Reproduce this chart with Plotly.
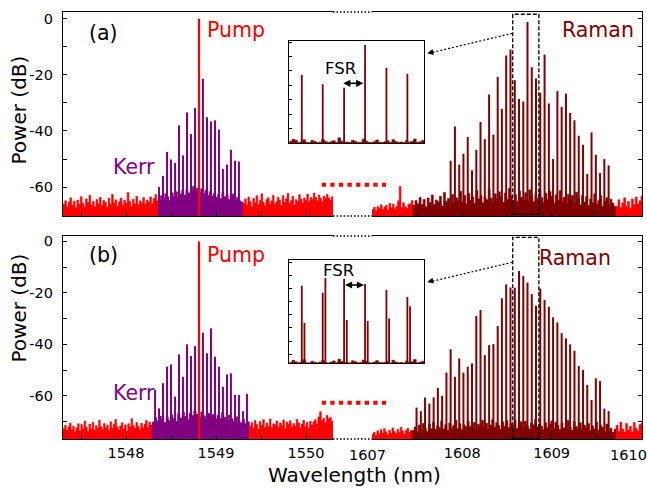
import numpy as np
import plotly.graph_objects as go

RED = "#ff0000"
PURPLE = "#800080"
MAROON = "#800000"
FONT = "DejaVu Sans"

# ---------------- data ----------------
left_ticks = [1547.5, 1548, 1548.5, 1549, 1549.5, 1550]
left_ticktext = ["", "1548", "", "1549", "", "1550"]
right_ticks = [1607, 1607.5, 1608, 1608.5, 1609, 1609.5, 1610]
right_ticktext = ["", "", "1608", "", "1609", "", ""]
edge_ticklabels = ["1607", "1610"]   # edge labels drawn as text next to the axis ends
power_ticks = [-70, -60, -50, -40, -30, -20, -10, 0]
power_ticktext = ["", "-60", "", "-40", "", "-20", "", "0"]

pump_nm = 1548.811
pump_db = 0.0

# Kerr comb, panel (a)
kerr_a_nm = [1548.367, 1548.411, 1548.456, 1548.500, 1548.545, 1548.589, 1548.633, 1548.678, 1548.722, 1548.767,
             1548.855, 1548.900, 1548.944, 1548.989, 1549.033, 1549.077, 1549.122, 1549.166, 1549.211, 1549.255]
kerr_a_db = [-60.0, -56.0, -47.5, -50.2, -51.4, -38.0, -48.7, -33.4, -41.1, -31.8,
             -21.4, -35.1, -36.6, -36.2, -39.5, -53.5, -52.0, -46.7, -50.6, -50.9]

# Kerr comb, panel (b)
kerr_b_nm = [1548.323, 1548.367, 1548.411, 1548.456, 1548.500, 1548.545, 1548.589, 1548.633, 1548.678, 1548.722, 1548.767,
             1548.855, 1548.900, 1548.944, 1548.989, 1549.033, 1549.077, 1549.122, 1549.166, 1549.211, 1549.255, 1549.300, 1549.344]
kerr_b_db = [-57.7, -64.9, -55.1, -48.7, -47.8, -60.3, -43.9, -52.6, -40.0, -44.5, -40.7,
             -35.5, -43.5, -33.8, -44.8, -48.7, -56.5, -51.7, -51.3, -59.7, -59.7, -66.0, -59.3]

# Raman comb wavelengths (shared grid)
raman_nm = [1607.490, 1607.538, 1607.585, 1607.633, 1607.681, 1607.728, 1607.776, 1607.824,
            1607.871, 1607.919, 1607.967, 1608.014, 1608.062, 1608.110, 1608.158, 1608.205, 1608.253,
            1608.301, 1608.349, 1608.397, 1608.444, 1608.492, 1608.540, 1608.588, 1608.635, 1608.683,
            1608.730, 1608.778, 1608.825, 1608.873, 1608.921, 1608.969, 1609.016, 1609.064, 1609.112,
            1609.160, 1609.207, 1609.255, 1609.303, 1609.351, 1609.398, 1609.446, 1609.494, 1609.541,
            1609.589, 1609.637]
raman_a_db = [None, None, None, None, None, None, None, None,
              -50.6, -38.4, -52.0, -48.1, -42.1, -54.0, -46.7, -36.8, -42.9,
              -27.0, -41.3, -20.7, -32.1, -13.1, -11.0, -21.9, -28.6, -29.5,
              -1.2, -17.3, -21.3, -26.4, -12.8, -30.2, -50.0, -25.8, -31.4,
              -26.7, -33.6, -36.2, -41.7, -44.9, -55.3, -40.5, -48.5, -55.0,
              -50.0, -52.3]
raman_b_db = [-64.6, -66.0, -60.7, -63.0, -60.6, -56.9, -60.0, -51.0,
              -41.9, -52.6, -45.5, -51.0, -48.7, -47.4, -29.0, -26.7, -44.2,
              -40.3, -39.9, -32.9, -22.1, -16.7, -17.9, -18.0, -11.5, -13.5,
              -16.0, -20.5, -25.0, -18.3, -22.8, -25.4, -29.5, -31.5, -35.7,
              -37.7, -40.0, -42.5, -48.4, -50.0, -55.8, -61.6, -53.2, -54.3,
              -65.0, -66.0]

# Inset (a): zoom on the dashed box
inset_a_nm = [1608.588, 1608.635, 1608.683, 1608.730, 1608.778, 1608.825]
inset_a_db = [-22.8, -29.3, -31.7, -1.9, -17.7, -21.9]
inset_a_noise = [-69.0, -67.6, -68.2, -69.8, -69.5, -67.9, -69.7, -69.9, -68.4, -69.2, -69.8, -69.6, -67.8,
                 -69.1, -69.9, -69.4, -68.6, -69.8, -66.6, -68.9, -69.7, -69.5, -69.9, -68.3, -69.0, -69.8,
                 -69.6, -67.5, -68.8, -69.7, -69.9, -69.3, -68.1, -69.6, -69.8, -69.4, -68.7, -69.9, -67.9,
                 -69.2, -69.8, -69.5, -69.9, -68.4, -69.6, -69.1, -67.4, -69.7, -69.3, -68.5]
# Inset (b): doublets
inset_b_nm = [1608.588, 1608.594, 1608.635, 1608.641, 1608.683, 1608.689,
              1608.730, 1608.736, 1608.778, 1608.784, 1608.825, 1608.831]
inset_b_db = [-17.8, -46.1, -23.2, -12.0, -12.7, -44.0,
              -16.6, -44.8, -21.1, -42.8, -26.5, -33.4]
inset_b_noise = [-76.2, -74.6, -75.8, -76.5, -76.0, -74.2, -76.4, -76.6, -75.3, -76.1, -76.5, -75.9, -74.8,
                 -76.3, -76.6, -76.0, -75.1, -76.4, -73.8, -75.6, -76.5, -76.2, -76.6, -75.0, -75.7, -76.5,
                 -76.3, -74.4, -75.5, -76.4, -76.6, -76.0, -74.9, -76.3, -76.5, -76.1, -75.4, -76.6, -74.6,
                 -75.9, -76.5, -76.2, -76.6, -75.2, -76.3, -75.8, -74.1, -76.4, -76.0, -75.3]

# noise floors: (start nm, end nm, levels)
a_left = (1547.30, 1548.36, [-66.2, -64.9, -67.1, -65.3, -63.8, -66.5, -65.0, -67.4, -64.6, -66.0, -63.4, -65.8, -66.9,
                             -64.2, -65.5, -62.9, -66.3, -65.1, -67.0, -64.4, -65.9, -63.6, -66.6, -64.8, -65.4, -67.2,
                             -64.0, -66.1, -62.6, -65.6, -64.5, -66.8, -65.2, -63.9, -66.4, -64.7, -65.7, -61.9, -65.0,
                             -66.7, -64.3, -65.9, -63.3, -66.2, -64.9, -65.6, -63.7, -66.0, -64.6, -65.3, -63.5, -65.8,
                             -64.1, -62.7, -64.9])
a_kerr = (1548.36, 1549.30, [-64.6, -63.1, -64.0, -62.4, -63.5, -64.8, -62.0, -63.3, -61.7, -63.9, -62.5, -61.2, -62.8,
                             -60.9, -62.1, -61.5, -59.8, -61.0, -60.3, -61.8, -60.6, -62.3, -61.1, -62.9, -61.6, -63.2,
                             -62.2, -63.7, -62.6, -64.1, -61.9, -63.4, -62.7, -64.3, -63.0, -62.4, -64.5, -63.6, -64.9,
                             -65.3])
a_right = (1549.30, 1550.30, [-65.8, -64.2, -66.4, -63.5, -65.1, -66.9, -64.0, -65.6, -63.1, -66.2, -64.7, -62.4, -65.3,
                              -66.6, -64.4, -63.8, -65.9, -64.9, -62.9, -66.0, -65.2, -63.6, -64.6, -66.5, -63.0, -65.4,
                              -64.1, -62.2, -65.7, -64.8, -63.3, -66.3, -64.5, -65.0, -62.7, -64.3, -65.6, -63.9, -64.7,
                              -62.5, -65.2, -63.7, -64.4, -62.1, -63.6, -64.9, -62.8, -63.9, -65.1, -63.2, -64.0, -62.6,
                              -63.8, -64.6, -63.4])
a_r1 = (1606.99, 1607.45, [-68.0, -67.2, -68.4, -66.9, -67.6, -66.3, -67.9, -67.0, -66.5, -68.2, -65.8, -67.4, -66.0,
                           -67.7, -66.8, -64.9, -59.8, -67.3, -65.6, -66.9, -67.5, -66.2, -65.9, -64.8])
a_raman = (1607.45, 1609.72, [-66.5, -64.8, -65.9, -63.7, -66.2, -64.4, -67.0, -63.9, -65.5, -62.8, -66.1, -64.6, -65.2,
                              -63.3, -66.7, -61.9, -65.0, -64.1, -66.4, -62.6, -65.7, -63.8, -64.9, -61.5, -65.3, -63.0,
                              -66.0, -62.3, -64.7, -63.5, -65.8, -61.2, -64.2, -62.9, -65.6, -63.6, -64.5, -60.8, -63.9,
                              -65.1, -62.4, -64.0, -61.7, -63.4, -65.4, -62.1, -64.3, -60.5, -63.1, -64.8, -62.7, -65.0,
                              -61.4, -63.7, -64.6, -62.0, -64.9, -61.0, -63.2, -65.2, -62.5, -64.1, -60.9, -63.8, -65.5,
                              -62.2, -64.4, -61.6, -63.3, -65.7, -62.8, -64.7, -61.3, -65.1, -63.6, -66.0, -62.6, -64.5,
                              -63.0, -65.9, -61.8, -64.0, -66.3, -62.9, -65.3, -63.4, -66.6, -64.2, -65.6, -62.4, -66.1,
                              -64.8, -63.1, -66.8, -65.0, -63.8, -66.4, -64.3, -65.7, -66.9])
a_r3 = (1609.72, 1610.02, [-66.8, -64.5, -67.3, -65.6, -63.8, -66.9, -65.1, -67.5, -64.2, -66.3, -63.5, -66.0, -64.9,
                           -63.2])

b_left = (1547.30, 1548.29, [-72.8, -71.5, -73.4, -72.0, -70.6, -73.1, -71.8, -74.0, -72.4, -70.9, -73.6, -71.2, -72.7,
                             -69.8, -72.2, -73.8, -71.0, -72.9, -70.3, -73.3, -71.6, -72.5, -69.5, -71.9, -73.0, -70.8,
                             -72.3, -71.4, -73.5, -70.1, -72.6, -71.1, -69.2, -72.0, -73.2, -71.7, -70.5, -72.8, -71.3,
                             -73.7, -70.9, -72.1, -68.9, -71.5, -72.6, -70.4, -71.9, -73.1, -70.7, -72.4, -71.0, -69.6,
                             -72.2, -70.2, -71.4])
b_kerr = (1548.29, 1549.37, [-70.2, -68.5, -69.7, -67.9, -69.1, -70.4, -68.2, -69.5, -67.4, -68.8, -69.9, -67.0, -68.6,
                             -66.5, -68.0, -69.3, -66.8, -67.7, -65.9, -67.2, -68.4, -66.3, -67.8, -68.9, -66.9, -68.1,
                             -67.3, -69.0, -67.6, -68.7, -66.6, -68.3, -69.4, -67.5, -68.9, -70.0, -68.2, -69.6, -70.5,
                             -69.2, -70.8, -70.1])
b_right = (1549.37, 1550.30, [-71.8, -70.4, -72.5, -69.6, -71.2, -72.9, -70.0, -71.6, -69.3, -72.2, -70.7, -71.9, -69.0,
                              -72.4, -70.9, -71.3, -69.8, -72.0, -70.5, -71.5, -69.4, -72.7, -70.2, -71.1, -69.7, -72.1,
                              -70.8, -71.7, -69.1, -70.6, -72.3, -71.0, -69.5, -71.8, -70.3, -72.6, -69.9, -71.4, -70.1,
                              -69.3, -71.0, -68.2, -66.2, -69.5, -68.8, -70.4, -67.6, -69.0, -68.4, -69.8])
b_r1 = (1606.99, 1607.44, [-75.0, -74.2, -75.4, -73.6, -74.8, -73.1, -74.5, -72.8, -74.0, -75.1, -73.4, -74.6, -72.5,
                           -73.9, -74.7, -73.0, -74.3, -72.2, -73.7, -74.9, -73.3, -72.6, -74.1, -73.5])
b_raman = (1607.44, 1609.72, [-73.5, -72.1, -74.0, -71.4, -73.2, -70.8, -72.6, -73.9, -71.0, -72.8, -70.3, -73.0, -71.7,
                              -72.4, -69.8, -72.9, -71.2, -73.4, -70.6, -72.2, -71.5, -69.5, -72.7, -70.9, -73.1, -71.3,
                              -72.0, -69.9, -71.8, -72.5, -70.4, -73.3, -71.1, -72.3, -69.6, -71.9, -70.7, -72.8, -71.4,
                              -69.3, -72.1, -70.5, -71.6, -73.0, -70.2, -71.9, -69.7, -72.4, -70.8, -71.5, -69.4, -72.6,
                              -71.0, -70.1, -72.2, -69.9, -71.7, -72.9, -70.6, -71.3, -69.2, -72.0, -70.9, -71.8, -73.2,
                              -70.4, -72.3, -71.1, -69.8, -72.7, -70.3, -71.6, -73.1, -70.7, -72.5, -71.2, -69.6, -72.1,
                              -73.4, -70.0, -71.9, -72.8, -70.5, -73.0, -71.4, -72.4, -70.8, -73.6, -71.7, -72.9, -70.2,
                              -73.3, -71.5, -72.2, -74.0, -71.0, -73.7, -72.6, -74.2, -73.0])
b_r3 = (1609.72, 1610.02, [-71.5, -73.8, -70.2, -72.9, -74.1, -70.8, -73.3, -71.9, -74.0, -70.4, -72.6, -73.7, -71.2,
                           -70.6])

# ---------------- geometry (pixels of the 647x488 canvas) ----------------
W, H = 647, 488
L, R, T, B = 63, 642, 12, 439


def px(x):
    return (x - L) / (R - L)


def py(y):
    return 1 - (y - T) / (B - T)


RANGE_A = [-70.3, 2.4]
RANGE_B = [-76.8, 2.1]
XL = [1547.30, 1550.30]
XR = [1606.992, 1610.01]


def stems(xs, ys, base):
    X, Y = [], []
    for x, y in zip(xs, ys):
        if y is None:
            continue
        X += [x, x, None]
        Y += [base, y, None]
    return X, Y


def floor_poly(seg, base):
    x0, x1, vals = seg
    edges = np.linspace(x0, x1, len(vals) + 1)
    X, Y = [x0], [base]
    for i, v in enumerate(vals):
        X += [edges[i], edges[i + 1]]
        Y += [v, v]
    X += [x1, x0]
    Y += [base, base]
    return X, Y


fig = go.Figure()


def add_floor(seg, base, color, xa, ya):
    X, Y = floor_poly(seg, base)
    fig.add_trace(go.Scatter(x=X, y=Y, mode="lines", fill="toself", fillcolor=color,
                             line=dict(color=color, width=0.6), xaxis=xa, yaxis=ya,
                             hoverinfo="skip", showlegend=False))


def add_stems(xs, ys, base, color, width, xa, ya):
    X, Y = stems(xs, ys, base)
    fig.add_trace(go.Scatter(x=X, y=Y, mode="lines", line=dict(color=color, width=width),
                             xaxis=xa, yaxis=ya, hoverinfo="skip", showlegend=False))


# Panel (a)
ba = RANGE_A[0]
add_floor(a_left, ba, RED, "x", "y")
add_floor(a_kerr, ba, PURPLE, "x", "y")
add_floor(a_right, ba, RED, "x", "y")
add_stems(kerr_a_nm, kerr_a_db, ba, PURPLE, 2, "x", "y")
add_stems([pump_nm], [pump_db], ba, RED, 2.2, "x", "y")
add_floor(a_r1, ba, RED, "x2", "y3")
add_floor(a_raman, ba, MAROON, "x2", "y3")
add_floor(a_r3, ba, RED, "x2", "y3")
add_stems(raman_nm, raman_a_db, ba, MAROON, 2, "x2", "y3")

# Panel (b)
bb = RANGE_B[0]
add_floor(b_left, bb, RED, "x3", "y2")
add_floor(b_kerr, bb, PURPLE, "x3", "y2")
add_floor(b_right, bb, RED, "x3", "y2")
add_stems(kerr_b_nm, kerr_b_db, bb, PURPLE, 2, "x3", "y2")
add_stems([pump_nm], [pump_db], bb, RED, 2.2, "x3", "y2")
add_floor(b_r1, bb, RED, "x4", "y4")
add_floor(b_raman, bb, MAROON, "x4", "y4")
add_floor(b_r3, bb, RED, "x4", "y4")
add_stems(raman_nm, raman_b_db, bb, MAROON, 2, "x4", "y4")

# Insets
INSET_X = [1608.560, 1608.863]
IA = [-70.4, 1.2]
IB = [-76.9, 1.7]
add_floor((INSET_X[0], INSET_X[1], inset_a_noise), IA[0], MAROON, "x5", "y5")
add_stems(inset_a_nm, inset_a_db, IA[0], MAROON, 1.8, "x5", "y5")
add_floor((INSET_X[0], INSET_X[1], inset_b_noise), IB[0], MAROON, "x6", "y6")
add_stems(inset_b_nm, inset_b_db, IB[0], MAROON, 1.8, "x6", "y6")

# ---------------- axes ----------------
ax_common = dict(showline=True, linecolor="black", linewidth=1.3, ticks="inside", ticklen=4,
                 tickcolor="black", tickwidth=1, showgrid=False, zeroline=False,
                 tickfont=dict(family=FONT, size=14.5, color="black"))

LDOM = [0, px(333)]
RDOM = [px(372), 1]
ADOM = [py(216), 1]
BDOM = [0, py(236)]

layout_axes = dict(
    xaxis=dict(ax_common, domain=LDOM, range=XL, anchor="y", mirror=True,
               tickvals=left_ticks, ticktext=left_ticktext, showticklabels=False),
    xaxis2=dict(ax_common, domain=RDOM, range=XR, anchor="y3", mirror=True,
                tickvals=right_ticks, ticktext=right_ticktext, showticklabels=False),
    xaxis3=dict(ax_common, domain=LDOM, range=XL, anchor="y2", mirror=True,
                tickvals=left_ticks, ticktext=left_ticktext, ticklabelstandoff=0),
    xaxis4=dict(ax_common, domain=RDOM, range=XR, anchor="y4", mirror=True,
                tickvals=right_ticks, ticktext=right_ticktext, ticklabelstandoff=0),
    yaxis=dict(ax_common, domain=ADOM, range=RANGE_A, anchor="x",
               tickvals=power_ticks, ticktext=power_ticktext, ticklabelstandoff=6),
    yaxis3=dict(ax_common, range=RANGE_A, anchor="x2", overlaying="y", side="right",
                tickvals=power_ticks, showticklabels=False),
    yaxis2=dict(ax_common, domain=BDOM, range=RANGE_B, anchor="x3",
                tickvals=power_ticks, ticktext=power_ticktext, ticklabelstandoff=6),
    yaxis4=dict(ax_common, range=RANGE_B, anchor="x4", overlaying="y2", side="right",
                tickvals=power_ticks, showticklabels=False),
    xaxis5=dict(ax_common, domain=[px(289.3), px(424.3)], range=INSET_X, anchor="y5", mirror=True,
                ticks="", showticklabels=False),
    yaxis5=dict(ax_common, domain=[py(143.3), py(40.5)], range=IA, anchor="x5", mirror=True,
                tickvals=power_ticks, showticklabels=False, ticklen=3),
    xaxis6=dict(ax_common, domain=[px(289.3), px(424.3)], range=INSET_X, anchor="y6", mirror=True,
                ticks="", showticklabels=False),
    yaxis6=dict(ax_common, domain=[py(363.3), py(260)], range=IB, anchor="x6", mirror=True,
                tickvals=power_ticks, showticklabels=False, ticklen=3),
)

# ---------------- shapes ----------------
shapes = []
# dotted frame across the axis break
for yy in (12, 216, 236, 439):
    shapes.append(dict(type="line", xref="paper", yref="paper", x0=px(333), x1=px(372), y0=py(yy), y1=py(yy),
                       line=dict(color="black", width=1.5, dash="1.5px,2px")))
# red dashed break markers
for yy in (184.7, 402.7):
    shapes.append(dict(type="line", xref="paper", yref="paper", x0=px(321.7), x1=px(386), y0=py(yy), y1=py(yy),
                       line=dict(color=RED, width=4, dash="4.3px,4.3px")))
# dashed zoom boxes
shapes.append(dict(type="rect", xref="x2", yref="y3", x0=1608.565, x1=1608.857, y0=-69.6, y1=1.6,
                   line=dict(color="black", width=1.3, dash="4px,2px")))
shapes.append(dict(type="rect", xref="x4", yref="y4", x0=1608.565, x1=1608.857, y0=-76.5, y1=1.55,
                   line=dict(color="black", width=1.3, dash="4px,2px")))
# dotted pointer lines from box to inset
for (y0, y1) in ((33.3, 52.5), (262.3, 281.3)):
    shapes.append(dict(type="line", xref="paper", yref="paper", x0=px(512.3), x1=px(432), y0=py(y0), y1=py(y1),
                       line=dict(color="black", width=1.2, dash="2px,2px")))
# FSR double-arrow shafts
for (xa, xb, yy) in ((343.3, 363.3, 83.3), (345, 364, 285)):
    shapes.append(dict(type="line", xref="paper", yref="paper", x0=px(xa + 2), x1=px(xb - 2), y0=py(yy), y1=py(yy),
                       line=dict(color="black", width=1.6)))


# ---------------- annotations ----------------
def text(x, y, s, color="black", size=20.5, angle=0):
    return dict(x=px(x), y=py(y), xref="paper", yref="paper", text=s, showarrow=False,
                font=dict(family=FONT, size=size, color=color), xanchor="center", yanchor="middle",
                textangle=angle)


annotations = [
    text(103, 33, "(a)"), text(236, 30, "Pump", RED), text(134, 167, "Kerr", PURPLE),
    text(598, 30, "Raman", MAROON), text(340.5, 68, "FSR", size=16.5),
    text(103, 255, "(b)"), text(236, 255, "Pump", RED), text(134, 393, "Kerr", PURPLE),
    text(574.5, 258, "Raman", MAROON), text(338, 270, "FSR", size=16.5),
    text(18.5, 110, "Power (dB)", size=20, angle=-90),
    text(18.5, 308, "Power (dB)", size=20, angle=-90),
    text(354, 475, "Wavelength (nm)", size=20),
    text(367.5, 455, edge_ticklabels[0], size=14.5),
    text(628.5, 455, edge_ticklabels[1], size=14.5),
]
# FSR arrowheads (both ends)
for (xa, xb, yy) in ((343.3, 363.3, 83.3), (345, 364, 285)):
    annotations.append(dict(x=px(xb), y=py(yy), xref="paper", yref="paper", ax=-8, ay=0,
                            text="", showarrow=True, arrowhead=2, arrowsize=1.1, arrowwidth=1.3,
                            arrowcolor="black"))
    annotations.append(dict(x=px(xa), y=py(yy), xref="paper", yref="paper", ax=8, ay=0,
                            text="", showarrow=True, arrowhead=2, arrowsize=1.1, arrowwidth=1.3,
                            arrowcolor="black"))
# arrowheads of pointer lines
for yy in (53.3, 282.0):
    annotations.append(dict(x=px(427.3), y=py(yy), xref="paper", yref="paper", ax=7, ay=-1.6,
                            text="", showarrow=True, arrowhead=2, arrowsize=1, arrowwidth=1.2,
                            arrowcolor="black"))

fig.update_layout(
    width=W, height=H,
    margin=dict(l=L, r=W - R, t=T, b=H - B, pad=0, autoexpand=False),
    paper_bgcolor="white", plot_bgcolor="white",
    font=dict(family=FONT, color="black"),
    showlegend=False,
    shapes=shapes,
    annotations=annotations,
    **layout_axes,
)

fig.write_html("out.html", config={"displayModeBar": False},
               post_script="document.body.style.margin='0';document.body.style.overflow='hidden';")
